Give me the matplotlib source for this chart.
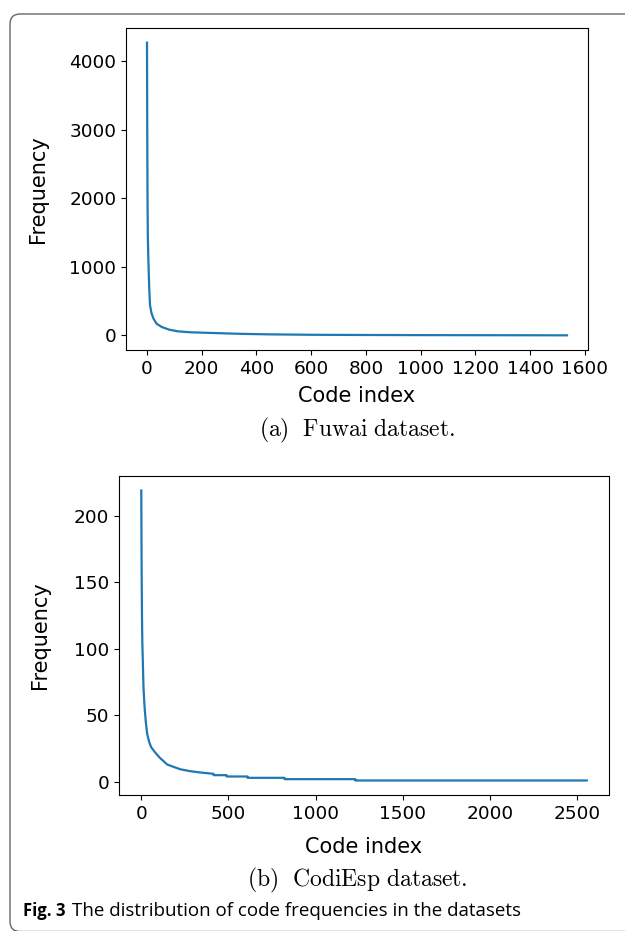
import matplotlib
matplotlib.use("Agg")
import matplotlib.pyplot as plt
import matplotlib.patches as mpatches

plt.rcParams["mathtext.fontset"] = "cm"

# Fuwai: (code index, frequency)
fuwai_idx = [0, 1, 2, 3, 5, 8, 11, 16, 23, 35, 54, 80, 113, 160, 248, 350, 450, 600, 800, 1000, 1200, 1400, 1535]
fuwai_freq = [4270, 2900, 1950, 1450, 1100, 700, 444, 330, 250, 170, 123, 85, 59, 45, 34, 22, 15, 9, 6, 4, 3, 2, 1]

# CodiEsp: (code index, frequency), the tail is stepped
codi_idx = [0, 2, 4, 6, 9, 13, 19, 26, 34, 45, 57, 80, 107, 149, 190, 225, 280, 340,
            415, 415, 490, 490, 610, 610, 822, 822, 1228, 1228, 2556]
codi_freq = [219, 160, 125, 105, 90, 70, 56, 45, 36, 30, 26, 22, 18, 13, 11, 9.4, 8, 7,
             6, 5, 5, 4, 4, 3, 3, 2, 2, 1, 1]

fig = plt.figure(figsize=(6.25, 9.31), dpi=100)

#Верхній графік
ax1 = fig.add_axes([0.2016, 0.6241, 0.7392, 0.3458])
ax1.plot(fuwai_idx, fuwai_freq, color="#1f77b4", lw=1.6)
ax1.set_xticks([0, 200, 400, 600, 800, 1000, 1200, 1400, 1600])
ax1.set_yticks([0, 1000, 2000, 3000, 4000])
ax1.set_xlabel("Code index", fontsize=15, labelpad=6)
ax1.set_ylabel("Frequency", fontsize=15, labelpad=15)
ax1.tick_params(labelsize=13.3)

#Нижній графік
ax2 = fig.add_axes([0.1904, 0.1461, 0.784, 0.3426])
ax2.plot(codi_idx, codi_freq, color="#1f77b4", lw=1.6)
ax2.set_xticks([0, 500, 1000, 1500, 2000, 2500])
ax2.set_yticks([0, 50, 100, 150, 200])
ax2.set_xlabel("Code index", fontsize=15, labelpad=10)
ax2.set_ylabel("Frequency", fontsize=15, labelpad=17)
ax2.tick_params(labelsize=13.3)

#Підписи
fig.text(0.571, 1 - 430 / 931, r"$\mathrm{(a)\ \ Fuwai\ dataset.}$", fontsize=17,
         ha="center", va="center")
fig.text(0.571, 1 - 880 / 931, r"$\mathrm{(b)\ \ CodiEsp\ dataset.}$", fontsize=17,
         ha="center", va="center")
fig.text(23 / 625, 1 - 911 / 931, "Fig. 3", fontsize=12, fontweight="bold",
         family="Open Sans", ha="left", va="center")
fig.text(72 / 625, 1 - 911 / 931, "The distribution of code frequencies in the datasets",
         fontsize=13.5, family="Open Sans", ha="left", va="center")

#Рамка
frame = mpatches.FancyBboxPatch((10, -0.5), 700, 917.5, boxstyle="round,pad=0,rounding_size=10",
                                transform=None, fill=False, edgecolor="#666666", lw=1)
fig.patches.append(frame)

fig.savefig("out.png", dpi=100)
